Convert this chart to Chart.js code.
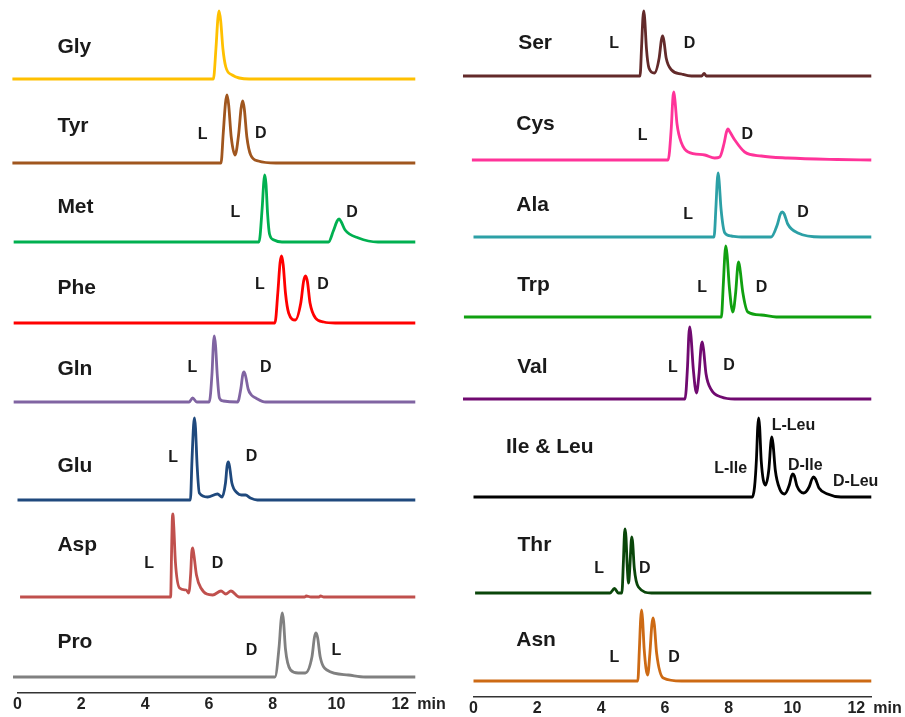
<!DOCTYPE html>
<html>
<head>
<meta charset="utf-8">
<title>Chiral separation of amino acids</title>
<script src="https://cdn.jsdelivr.net/npm/chart.js@4.4.1/dist/chart.umd.min.js"></script>
<style>
  html, body { margin: 0; padding: 0; background: #fff; overflow: hidden; }
  #leftChart { position: absolute; left: 0; top: 0; }
  #rightChart { position: absolute; left: 456px; top: 0; }
</style>
</head>
<body>
<canvas id="leftChart" width="452" height="717"></canvas>
<canvas id="rightChart" width="449" height="717"></canvas>
<script>
// time axis, minutes
const xMin = 0;
const xMax = 12.47;
const tickValues = [0, 2, 4, 6, 8, 10, 12];
const tickLabels = ['0', '2', '4', '6', '8', '10', '12'];
const unitLabel = 'min';

// ---- left column: [time (min), signal] ----
const leftNames = ['Gly', 'Tyr', 'Met', 'Phe', 'Gln', 'Glu', 'Asp', 'Pro'];

const gly = [[-0.16, 0], [6.14, 0], [6.22, 30], [6.28, 60], [6.32, 68], [6.37, 58], [6.44, 30], [6.53, 12],
  [6.73, 4], [7.26, 0], [12.47, 0]];
const tyr = [[-0.16, 0], [6.38, 0], [6.45, 30], [6.52, 60], [6.57, 68], [6.62, 58], [6.7, 26], [6.82, 8],
  [6.93, 28], [7.01, 55], [7.06, 62], [7.11, 54], [7.19, 26], [7.31, 8], [7.55, 2], [8.1, 0], [12.47, 0]];
const met = [[-0.12, 0], [7.57, 0], [7.67, 34], [7.72, 60], [7.75, 67], [7.79, 58], [7.84, 28], [7.9, 8],
  [8.04, 2], [8.29, 0], [9.75, 0], [9.9, 11], [10.02, 21], [10.08, 23], [10.15, 20], [10.27, 12], [10.69, 4],
  [11.3, 0], [12.47, 0]];
const phe = [[-0.12, 0], [8.07, 0], [8.16, 30], [8.23, 60], [8.28, 67], [8.33, 58], [8.4, 30], [8.5, 10],
  [8.71, 3], [8.88, 20], [8.97, 42], [9.03, 47], [9.09, 41], [9.17, 20], [9.34, 5], [9.6, 1], [9.96, 0], [12.47, 0]];
const gln = [[-0.12, 0], [5.38, 0], [5.49, 4], [5.62, 0], [6.01, 0], [6.1, 30], [6.14, 58], [6.17, 66],
  [6.21, 56], [6.26, 28], [6.33, 4], [6.45, 1], [6.9, 0], [7.0, 13], [7.06, 27], [7.1, 30], [7.15, 26],
  [7.23, 13], [7.33, 7], [7.47, 4], [7.78, 0], [12.47, 0]];
const glu = [[0, 0], [5.42, 0], [5.47, 40], [5.52, 75], [5.55, 82], [5.58, 72], [5.63, 35], [5.7, 7], [5.96, 3],
  [6.27, 6], [6.41, 3], [6.52, 17], [6.57, 34], [6.61, 38], [6.65, 33], [6.72, 17], [6.89, 7], [7.02, 5],
  [7.15, 5], [7.3, 2], [7.52, 0], [12.47, 0]];
const asp = [[0.08, 0], [4.8, 0], [4.83, 45], [4.85, 75], [4.87, 83], [4.9, 70], [4.95, 35], [5.08, 9], [5.29, 7],
  [5.37, 4], [5.43, 24], [5.46, 44], [5.49, 49], [5.53, 42], [5.61, 22], [5.75, 9], [6.12, 2], [6.38, 6],
  [6.53, 3], [6.69, 6], [6.95, 0], [9.0, 0], [9.05, 1], [9.2, 0], [9.45, 0], [9.5, 1], [9.6, 0], [12.47, 0]];
const pro = [[-0.14, 0], [8.07, 0], [8.2, 30], [8.26, 56], [8.3, 64], [8.34, 56], [8.4, 28], [8.56, 7], [8.8, 4],
  [9.02, 4], [9.23, 20], [9.31, 40], [9.36, 44], [9.41, 39], [9.49, 20], [9.7, 7], [10.37, 2], [10.9, 0], [12.47, 0]];

// ---- right column ----
const rightNames = ['Ser', 'Cys', 'Ala', 'Trp', 'Val', 'Ile & Leu', 'Thr', 'Asn'];

const ser = [[-0.33, 0], [5.22, 0], [5.27, 30], [5.31, 58], [5.34, 65], [5.37, 56], [5.42, 28], [5.5, 8],
  [5.67, 3], [5.82, 18], [5.89, 36], [5.93, 40], [5.97, 35], [6.04, 18], [6.21, 6], [6.52, 2], [6.83, 0],
  [7.15, 0], [7.23, 2.5], [7.3, 0], [12.47, 0]];
const cys = [[-0.05, 0], [6.1, 0], [6.2, 32], [6.25, 62], [6.28, 68], [6.32, 58], [6.38, 36], [6.52, 17],
  [6.73, 8], [7.25, 5], [7.56, 2], [7.72, 3], [7.85, 16], [7.93, 28], [7.98, 31], [8.04, 28], [8.19, 20],
  [8.5, 8], [9.02, 4], [9.85, 2], [11.4, 0.5], [12.47, 0]];
const ala = [[0, 0], [7.54, 0], [7.6, 30], [7.64, 56], [7.67, 64], [7.7, 56], [7.76, 28], [7.88, 4], [8.08, 1],
  [8.4, 0], [9.33, 0], [9.52, 12], [9.62, 23], [9.68, 25], [9.74, 23], [9.85, 13], [10.17, 4], [10.9, 0], [12.47, 0]];
const trp = [[-0.3, 0], [7.77, 0], [7.83, 32], [7.88, 63], [7.91, 71], [7.95, 62], [8.02, 30], [8.13, 5],
  [8.22, 25], [8.28, 50], [8.31, 55], [8.35, 49], [8.44, 25], [8.6, 5], [9.02, 2], [9.49, 0], [12.47, 0]];
const val = [[-0.33, 0], [6.63, 0], [6.71, 33], [6.75, 64], [6.78, 72], [6.82, 62], [6.89, 30], [6.99, 6],
  [7.07, 25], [7.13, 51], [7.17, 57], [7.21, 50], [7.29, 25], [7.46, 9], [7.77, 2], [8.19, 0], [12.47, 0]];
const ileLeu = [[0, 0], [8.74, 0], [8.81, 10], [8.87, 38], [8.91, 70], [8.94, 79], [8.97, 70], [9.02, 36],
  [9.15, 12], [9.26, 28], [9.32, 54], [9.35, 60], [9.39, 53], [9.46, 27], [9.6, 8], [9.75, 3], [9.9, 12],
  [9.97, 21], [10.01, 23], [10.06, 21], [10.14, 11], [10.35, 4], [10.52, 10], [10.61, 18], [10.66, 20],
  [10.72, 18], [10.83, 9], [11.1, 3], [11.52, 0], [12.47, 0]];
const thr = [[0.05, 0], [4.28, 0], [4.42, 4.5], [4.54, 0], [4.65, 0], [4.7, 32], [4.73, 58], [4.75, 64],
  [4.78, 56], [4.82, 26], [4.86, 10], [4.9, 25], [4.94, 50], [4.96, 56], [4.99, 50], [5.04, 25], [5.17, 6],
  [5.58, 0], [12.47, 0]];
const asn = [[0, 0], [5.15, 0], [5.2, 32], [5.24, 62], [5.27, 71], [5.3, 62], [5.35, 32], [5.46, 6], [5.53, 28],
  [5.59, 56], [5.63, 63], [5.67, 56], [5.74, 28], [5.95, 3], [6.52, 0], [12.47, 0]];

// ---- styles and placement ----
const FONT = '"Liberation Sans", Arial, sans-serif';
const PX_PER_MIN = 31.9;
const PLOT_LEFT = 17.5;

const leftColors = ['#FFC000', '#A0561E', '#00B050', '#FF0000', '#8064A2', '#1F497D', '#C0504D', '#808080'];
const rightColors = ['#632A2A', '#FF3399', '#2CA0A6', '#10A010', '#700A70', '#000000', '#0A460A', '#CD6A14'];

// pixel row of each trace baseline
const leftBaselines = [79, 163, 242, 323, 402, 500, 597, 677];
const rightBaselines = [76, 160, 237, 317, 399, 497, 593, 681];

// name tags [time, height above baseline]
const leftNameAt = [[1.25, 26], [1.25, 31], [1.25, 29], [1.25, 29], [1.25, 27], [1.25, 28.5], [1.25, 46], [1.25, 29]];
const rightNameAt = [[1.4, 27], [1.34, 30], [1.34, 26.5], [1.37, 26.5], [1.37, 26], [1.02, 44], [1.38, 42], [1.34, 35]];

// enantiomer tags [text, time, height above baseline]
const leftPeakTags = [
  [],
  [['L', 5.8, 24], ['D', 7.63, 25]],
  [['L', 6.83, 25], ['D', 10.49, 25]],
  [['L', 7.6, 34], ['D', 9.58, 34]],
  [['L', 5.48, 30], ['D', 7.78, 30]],
  [['L', 4.88, 38.5], ['D', 7.34, 39]],
  [['L', 4.13, 29], ['D', 6.27, 29]],
  [['D', 7.34, 22], ['L', 10.0, 22]]
];
const rightPeakTags = [
  [['L', 4.41, 28], ['D', 6.77, 28]],
  [['L', 5.3, 20], ['D', 8.58, 21]],
  [['L', 6.73, 18], ['D', 10.33, 20]],
  [['L', 7.17, 25], ['D', 9.03, 25]],
  [['L', 6.25, 27], ['D', 8.01, 29]],
  [['L-Ile', 8.06, 24], ['L-Leu', 10.03, 67], ['D-Ile', 10.4, 27], ['D-Leu', 11.98, 11]],
  [['L', 3.94, 20], ['D', 5.37, 20]],
  [['L', 4.42, 19], ['D', 6.29, 19]]
];

// names, tags and the unit next to the last tick
const traceText = {
  id: 'traceText',
  afterDatasetsDraw(chart, args, opts) {
    const { ctx, scales } = chart;
    const x = scales.x;
    ctx.save();
    ctx.fillStyle = '#1a1a1a';
    ctx.textBaseline = 'alphabetic';
    opts.names.forEach((name, i) => {
      const y = scales['y' + i];
      ctx.font = 'bold 21px ' + FONT;
      ctx.textAlign = 'left';
      ctx.fillText(name, x.getPixelForValue(opts.nameAt[i][0]), y.getPixelForValue(opts.nameAt[i][1]));
      ctx.font = 'bold 16px ' + FONT;
      ctx.textAlign = 'center';
      opts.tags[i].forEach(([txt, t, h]) => {
        ctx.fillText(txt, x.getPixelForValue(t), y.getPixelForValue(h));
      });
    });
    ctx.font = 'bold 16px ' + FONT;
    ctx.textAlign = 'left';
    ctx.textBaseline = 'middle';
    ctx.fillStyle = '#222';
    ctx.fillText(unitLabel, x.right + 2, x.top + 2 + 9.6);
    ctx.restore();
  }
};

function buildColumn(canvasId, traces, names, colors, baselines, axisY, nameAt, tags) {
  const canvas = document.getElementById(canvasId);
  const W = canvas.width;
  const H = canvas.height;

  const scales = {
    x: {
      type: 'linear',
      position: 'bottom',
      min: xMin,
      max: xMax,
      grid: { display: false, drawTicks: false },
      border: { display: true, color: '#333', width: 1.5 },
      ticks: {
        padding: 2,
        color: '#222',
        maxRotation: 0,
        autoSkip: false,
        font: { family: FONT, size: 16, weight: 'bold' },
        callback: (v) => tickLabels[tickValues.indexOf(v)]
      },
      afterBuildTicks: (s) => { s.ticks = tickValues.map(v => ({ value: v })); },
      afterFit: (s) => { s.height = H - axisY; }
    }
  };

  // one stacked y scale per trace, each band ends at its baseline
  baselines.forEach((b, i) => {
    const top = i === 0 ? 0 : baselines[i - 1];
    const below = i === baselines.length - 1 ? axisY - b : 0;
    scales['y' + i] = {
      type: 'linear',
      display: false,
      position: 'left',
      stack: 'column',
      stackWeight: b - top + below,
      weight: baselines.length - i,
      min: -below,
      max: b - top
    };
  });

  const datasets = traces.map((pts, i) => ({
    label: names[i],
    data: pts,
    xAxisID: 'x',
    yAxisID: 'y' + i,
    borderColor: colors[i],
    borderWidth: 2.8,
    pointRadius: 0,
    fill: false,
    cubicInterpolationMode: 'monotone',
    clip: false
  }));

  return new Chart(canvas, {
    type: 'line',
    data: { datasets },
    options: {
      responsive: false,
      animation: false,
      events: [],
      layout: {
        padding: { left: PLOT_LEFT, right: W - (PLOT_LEFT + xMax * PX_PER_MIN), top: 0, bottom: 0 }
      },
      scales,
      plugins: {
        legend: { display: false },
        tooltip: { enabled: false },
        traceText: { names, nameAt, tags }
      }
    },
    plugins: [traceText]
  });
}

buildColumn('leftChart', [gly, tyr, met, phe, gln, glu, asp, pro], leftNames, leftColors,
  leftBaselines, 693, leftNameAt, leftPeakTags);
buildColumn('rightChart', [ser, cys, ala, trp, val, ileLeu, thr, asn], rightNames, rightColors,
  rightBaselines, 697, rightNameAt, rightPeakTags);
</script>
</body>
</html>
